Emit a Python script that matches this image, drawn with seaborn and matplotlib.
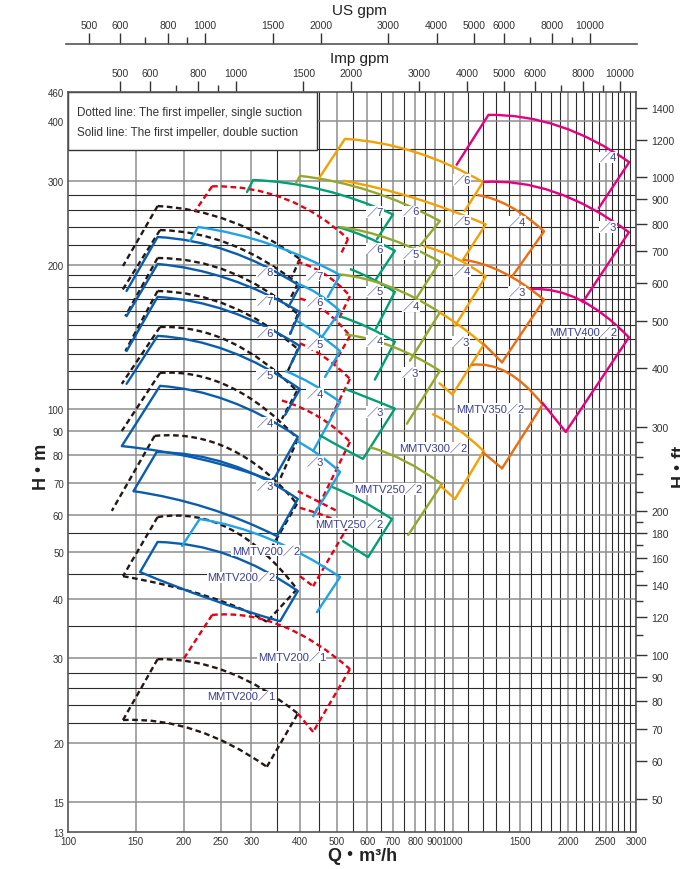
import numpy as np
import matplotlib
matplotlib.use("Agg")
import matplotlib.pyplot as plt
from matplotlib.path import Path
from matplotlib.patches import PathPatch, Rectangle
import seaborn as sns

# ---- data: (Q m3/h, H m); 3 points = curve (start, middle, end), 2 points = straight edge
PINK = [
    [(1240, 412), (1900, 390), (2880, 328)], [(1240, 412), (1025, 324)], [(2880, 328), (2400, 263)],
    [(1200, 298), (1845, 284), (2875, 234)], [(2875, 234), (2180, 167)],
    [(1600, 178), (2144, 169), (2875, 141)], [(2875, 141), (1970, 89.4)], [(1970, 89.4), (1710, 103)],
]
ORANGE_RED = [
    [(1160, 280), (1410, 265), (1730, 235)], [(1730, 235), (1435, 190)],
    [(1065, 205), (1350, 193), (1730, 169)], [(1730, 169), (1345, 125)], [(1345, 125), (1200, 137)],
    [(1120, 123.5), (1390, 119), (1715, 102)], [(1715, 102), (1345, 75)], [(1345, 75), (1200, 81)],
]
AMBER = [
    [(525, 367), (795, 345), (1200, 298)], [(525, 367), (450, 304)], [(1200, 298), (1075, 259)],
    [(520, 300), (795, 276), (1220, 243)], [(1220, 243), (1065, 205)],
    [(840, 219), (1015, 207), (1220, 189)], [(1220, 189), (1015, 149)],
    [(925, 159), (1058, 148), (1205, 136)], [(1205, 136), (1000, 107)], [(925, 113), (1000, 107)],
    [(885, 97.5), (1030, 90.7), (1205, 81.5)], [(1205, 81.5), (1015, 64.7)], [(1015, 64.7), (930, 69)],
]
OLIVE = [
    [(401, 307), (610, 285.5), (927, 247)], [(401, 307), (392, 297)], [(927, 247), (822, 219)],
    [(510, 240), (687, 226.5), (927, 203)], [(927, 203), (808, 171)],
    [(510, 191), (687, 180), (927, 159)], [(927, 159), (775, 126)],
    [(525, 143), (696, 135), (927, 120)], [(927, 120), (761, 93)],
    [(610, 83), (752, 77.7), (938, 69.5)], [(938, 69.5), (767, 54.4)],
]
GREEN = [
    [(303, 301), (460, 287), (700, 255)], [(303, 301), (292, 284)], [(700, 255), (636, 226.5)],
    [(503, 240), (595, 229), (708, 214)], [(708, 214), (628, 185)],
    [(541, 196), (617, 187), (708, 175.5)], [(708, 175.5), (632, 147)],
    [(510, 156), (603, 148), (708, 138)], [(708, 138), (628, 115)],
    [(525, 110), (610, 105), (708, 100)], [(708, 100), (585, 78.5)], [(585, 78.5), (513, 83), (452, 88)],
    [(486, 68.6), (581, 64.1), (696, 58.75)], [(696, 58.75), (603, 48.9)], [(603, 48.9), (519, 52.8)],
]
LIGHT_BLUE = [
    [(218, 240), (335, 221), (510, 190.4)], [(218, 240), (207.6, 224.3)], [(510, 190.4), (474, 171.3)],
    [(394, 182.7), (447, 173.9), (510, 160)], [(510, 160), (457.5, 141.2)],
    [(394, 152.5), (447, 143.3), (510, 132)], [(510, 132), (466, 116.5)],
    [(367, 120), (431, 112.7), (510, 103.3)], [(510, 103.3), (434, 81.5)],
    [(394, 85.5), (447, 80.3), (510, 73.7)], [(510, 73.7), (434, 59.6)],
    [(220, 58.75), (335, 53.35), (510, 44.4)], [(220, 58.75), (198, 51.6)], [(510, 44.4), (444, 37.5)],
]
DARK_BLUE = [
    [(171, 228.7), (262, 213.7), (401, 180.6)], [(171, 228.7), (142, 176.3)], [(401, 180.6), (378, 165.6)],
    [(171, 200.8), (262, 186.8), (401, 159.3)], [(171, 200.8), (142, 156.2)], [(401, 159.3), (378, 143.3)],
    [(171, 171.3), (262, 160), (401, 135.2)], [(171, 171.3), (142, 132)], [(401, 135.2), (378, 122.9)],
    [(171, 142), (262, 132), (401, 109.9)], [(171, 142), (142, 112.7)], [(401, 109.9), (367, 97)],
    [(173.5, 111.6), (262, 103.8), (396, 87.3)], [(173.5, 111.6), (138, 83.5)], [(396, 87.3), (341, 70.6)],
    [(138, 83.5), (220, 78.5), (341, 70.6)],
    [(170, 81.1), (262, 76.6), (396, 64.7)], [(170, 81.1), (148, 67.2)], [(396, 64.7), (349.5, 54.1)],
    [(148, 67.2), (230, 62), (349.5, 54.1)],
    [(171, 52.6), (262, 49.4), (396, 41.5)], [(171, 52.6), (154, 45.5)], [(396, 41.5), (356, 35.9)],
    [(154, 45.5), (234, 39.95), (356, 35.9)],
]
RED_DASHED = [
    [(237, 292), (367, 275), (535, 226.5)], [(237, 292), (214, 259)], [(535, 226.5), (510, 209)],
    [(394, 203), (466, 191), (541, 172)], [(541, 172), (503, 152.5)],
    [(401, 170), (466, 160), (541, 142)], [(541, 142), (489, 123)],
    [(401, 137), (466, 128), (541, 115.4)], [(541, 115.4), (480, 95)],
    [(360, 104), (450, 96), (541, 85.2)], [(541, 85.2), (434, 59.3)], [(396, 67.2), (500, 61.1)],
    [(401, 62), (470, 59.5), (535, 56.8)], [(535, 56.8), (434, 42.5)], [(401, 44.6), (434, 42.5)],
    [(237, 37), (358, 35.2), (541, 28.5)], [(237, 37), (198, 29.6)], [(541, 28.5), (434, 21.06)],
    [(434, 21.06), (396, 23)],
]
BLACK_DASHED = [
    [(171, 265.5), (264, 247), (401, 205.7)], [(171, 265.5), (139, 198.9)], [(401, 205.7), (382, 188.6)],
    [(173.5, 236.5), (264, 221), (396, 182.7)], [(173.5, 236.5), (138, 176.3)], [(396, 182.7), (378, 169.6)],
    [(171, 206.7), (264, 193.2), (396, 157.8)], [(171, 206.7), (141, 156.2)], [(396, 157.8), (378, 143.3)],
    [(171, 176.3), (264, 163.9), (396, 133.3)], [(171, 176.3), (141, 132)], [(396, 133.3), (373, 119.9)],
    [(173.5, 148.2), (264, 138), (394, 108.9)], [(173.5, 148.2), (138, 112.7)], [(394, 108.9), (360, 95.15)],
    [(173.5, 118.8), (264, 111), (396, 86.4)], [(173.5, 118.8), (138, 89.8)], [(396, 86.4), (356, 71.25)],
    [(168, 87.7), (264, 82.3), (394, 63.2)], [(168, 87.7), (130, 61.1)], [(394, 63.2), (325, 48.45)],
    [(171, 59.3), (264, 56), (394, 41.9)], [(171, 59.3), (139, 44.6)], [(394, 41.9), (329, 35.8)],
    [(139, 44.6), (230, 40.5), (329, 35.8)],
    [(171, 29.9), (261, 28.1), (396, 23)], [(171, 29.9), (139, 22.3)],
    [(139, 22.3), (214, 21.26), (329, 17.8)], [(329, 17.8), (396, 23)],
]

# stage labels: (Q, H, text)
LABELS = [
    (2535, 336, "／4"), (2535, 240, "／3"), (2183, 145, "MMTV400／2"),
    (1471, 246, "／4"), (1471, 175.5, "／3"), (1251, 100, "MMTV350／2"),
    (1058, 301, "／6"), (1058, 247, "／5"), (1058, 194, "／4"), (1051, 138, "／3"), (889, 82.7, "MMTV300／2"),
    (779, 259, "／6"), (779, 210.6, "／5"), (779, 164, "／4"), (775, 119, "／3"), (679, 67.9, "MMTV250／2"),
    (628, 258, "／7"), (628, 216, "／6"), (628, 176, "／5"), (628, 138.6, "／4"), (628, 98.4, "／3"),
    (538, 57.4, "MMTV250／2"),
    (439, 190, "／7"), (439, 167, "／6"), (439, 136.6, "／5"), (439, 107.4, "／4"), (439, 77.3, "／3"),
    (327, 50.4, "MMTV200／2"),
    (325, 193, "／8"), (325, 168, "／7"), (325, 144, "／6"), (325, 117.6, "／5"), (325, 93.3, "／4"),
    (325, 68.9, "／3"), (282, 44.4, "MMTV200／2"),
    (382, 30.2, "MMTV200／1"), (283, 25, "MMTV200／1"),
]

Q_TICKS = [100, 150, 200, 250, 300, 400, 500, 600, 700, 800, 900, 1000, 1500, 2000, 2500, 3000]
Q_GRID = list(range(150, 1000, 50)) + list(range(1000, 3001, 100))
H_TICKS = [13, 15, 20, 30, 40, 50, 60, 70, 80, 90, 100, 200, 300, 400, 460]
H_GRID = [15, 20, 22, 24, 26, 28, 30, 35, 40, 45, 50, 55, 60, 70, 80, 90, 100, 110, 120, 130, 140,
          150, 160, 170, 180, 190, 200, 220, 240, 260, 280, 300, 350, 400]
FT_TICKS = [50, 60, 70, 80, 90, 100, 120, 140, 160, 180, 200, 300, 400, 500, 600, 700, 800, 900,
            1000, 1200, 1400]
FT_MINOR = [110, 130, 150, 170, 190, 220, 240, 260, 280]
IMP_TICKS = [500, 600, 800, 1000, 1500, 2000, 3000, 4000, 5000, 6000, 8000, 10000]
IMP_MINOR = [700, 900, 7000, 9000]
US_TICKS = [500, 600, 800, 1000, 1500, 2000, 3000, 4000, 5000, 6000, 8000, 10000]
US_MINOR = [700, 900, 7000, 9000]

M3H_TO_USGPM = 4.403
M3H_TO_IMPGPM = 3.666
M_TO_FT = 3.2808


def draw_stroke(ax, pts, color, dashed):
    ls = (0, (2.4, 1.5)) if dashed else "-"
    if len(pts) == 2:
        sns.lineplot(x=[pts[0][0], pts[1][0]], y=[pts[0][1], pts[1][1]], ax=ax, sort=False,
                     estimator=None, color=color, lw=1.7, linestyle=ls, zorder=3)
        return
    lp = np.log10(np.array(pts, dtype=float))
    ctrl = 10 ** (2 * lp[1] - 0.5 * (lp[0] + lp[2]))
    path = Path([pts[0], tuple(ctrl), pts[2]], [Path.MOVETO, Path.CURVE3, Path.CURVE3])
    ax.add_patch(PathPatch(path, fill=False, ec=color, lw=1.7, ls=ls, zorder=3))


def main():
    sns.set_style("white")
    plt.rcParams["font.family"] = ["Liberation Sans", "Noto Sans CJK JP", "DejaVu Sans"]

    fig = plt.figure(figsize=(6.8, 8.7), dpi=100)
    ax = fig.add_axes([68 / 680, 37 / 870, 568 / 680, 740 / 870])
    ax.set_xscale("log")
    ax.set_yscale("log")
    ax.set_xlim(100, 3000)
    ax.set_ylim(13, 460)

    for q in Q_GRID:
        major = q in Q_TICKS
        ax.axvline(q, color="#8e8e8e" if major else "#2b2b2b", lw=1.1 if major else 0.8, zorder=1)
    for h in H_GRID:
        major = h in H_TICKS
        ax.axhline(h, color="#8e8e8e" if major else "#2b2b2b", lw=1.1 if major else 0.8, zorder=1)

    ax.set_xticks(Q_TICKS)
    ax.set_xticklabels([str(v) for v in Q_TICKS])
    ax.set_yticks(H_TICKS)
    ax.set_yticklabels([str(v) for v in H_TICKS])
    ax.minorticks_off()
    ax.tick_params(length=0, labelsize=7, pad=3, colors="#333333")
    for s in ax.spines.values():
        s.set_color("#555555")
        s.set_linewidth(1.2)

    # legend box
    ax.add_patch(Rectangle((0, 0.9216), 0.438, 0.0784, transform=ax.transAxes, fc="white",
                           ec="#333333", lw=1.0, zorder=2))
    ax.text(0.016, 0.973, "Dotted line: The first impeller, single suction", transform=ax.transAxes,
            fontsize=8.4, va="center", color="#333333", zorder=5)
    ax.text(0.016, 0.946, "Solid line: The first impeller, double suction", transform=ax.transAxes,
            fontsize=8.4, va="center", color="#333333", zorder=5)

    families = [
        (BLACK_DASHED, "#231815", True), (RED_DASHED, "#e60012", True),
        (DARK_BLUE, "#0a5cad", False), (LIGHT_BLUE, "#1fa3e6", False),
        (GREEN, "#00a073", False), (OLIVE, "#94a82e", False), (AMBER, "#f5a000", False),
        (ORANGE_RED, "#ee6c0d", False), (PINK, "#e5007e", False),
    ]
    for strokes, color, dashed in families:
        for pts in strokes:
            draw_stroke(ax, pts, color, dashed)

    for q, h, t in LABELS:
        ax.text(q, h, t, fontsize=8, color="#3a3d99", ha="center", va="center", zorder=4,
                bbox=dict(fc="white", ec="none", pad=0.3))

    # right axis in feet
    ax2 = ax.twinx()
    ax2.set_yscale("log")
    ax2.set_ylim(13 * M_TO_FT, 460 * M_TO_FT)
    ax2.set_yticks(FT_TICKS)
    ax2.set_yticklabels([str(v) for v in FT_TICKS])
    ax2.set_yticks(FT_MINOR, minor=True)
    ax2.yaxis.set_minor_formatter(matplotlib.ticker.NullFormatter())
    ax2.tick_params(which="major", length=8, width=1, labelsize=7.5, pad=3, colors="#333333")
    ax2.tick_params(which="minor", length=5, width=1, colors="#333333")
    for s in ax2.spines.values():
        s.set_visible(False)

    # Imp gpm on top of plot frame
    imp = ax.secondary_xaxis("top", functions=(lambda q: q * M3H_TO_IMPGPM, lambda g: g / M3H_TO_IMPGPM))
    imp.set_xticks(IMP_TICKS)
    imp.set_xticklabels([str(v) for v in IMP_TICKS])
    imp.set_xticks(IMP_MINOR, minor=True)
    imp.xaxis.set_minor_formatter(matplotlib.ticker.NullFormatter())
    imp.tick_params(which="major", length=8, width=1, labelsize=7.5, pad=2, colors="#333333")
    imp.tick_params(which="minor", length=5, width=1, colors="#333333")
    imp.spines["top"].set_visible(False)

    # US gpm axis line above
    us = fig.add_axes([66 / 680, 1 - 45 / 870, 571 / 680, 0.0005])
    us.set_xscale("log")
    us.set_xlim(100 * M3H_TO_USGPM * 10 ** (-2 / 384.6), 3000 * M3H_TO_USGPM * 10 ** (1 / 384.6))
    us.set_yticks([])
    for k in ["left", "right", "bottom"]:
        us.spines[k].set_visible(False)
    us.spines["top"].set_color("#555555")
    us.spines["top"].set_linewidth(1.2)
    us.xaxis.tick_top()
    us.set_xticks(US_TICKS)
    us.set_xticklabels([str(v) for v in US_TICKS])
    us.set_xticks(US_MINOR, minor=True)
    us.xaxis.set_minor_formatter(matplotlib.ticker.NullFormatter())
    us.tick_params(which="major", length=8, width=1, labelsize=7.5, pad=2, colors="#333333")
    us.tick_params(which="minor", length=5, width=1, colors="#333333")
    us.patch.set_alpha(0)

    fig.text(359 / 680, 1 - 11 / 870, "US gpm", fontsize=11, ha="center", va="center", color="#222222")
    fig.text(359 / 680, 1 - 59 / 870, "Imp gpm", fontsize=11, ha="center", va="center", color="#222222")
    fig.text(40 / 680, 1 - 465 / 870, "H・m", fontsize=13, fontweight="bold", rotation=90,
             ha="center", va="center", color="#222222")
    fig.text(362 / 680, 1 - 857 / 870, "Q・m³/h", fontsize=13, fontweight="bold",
             ha="center", va="center", color="#222222")
    fig.text(671 / 680, 1 - 465 / 870, "H・ft", fontsize=13, fontweight="bold", rotation=90,
             ha="left", va="center", color="#222222")

    fig.savefig("out.png", dpi=100)


if __name__ == "__main__":
    main()
